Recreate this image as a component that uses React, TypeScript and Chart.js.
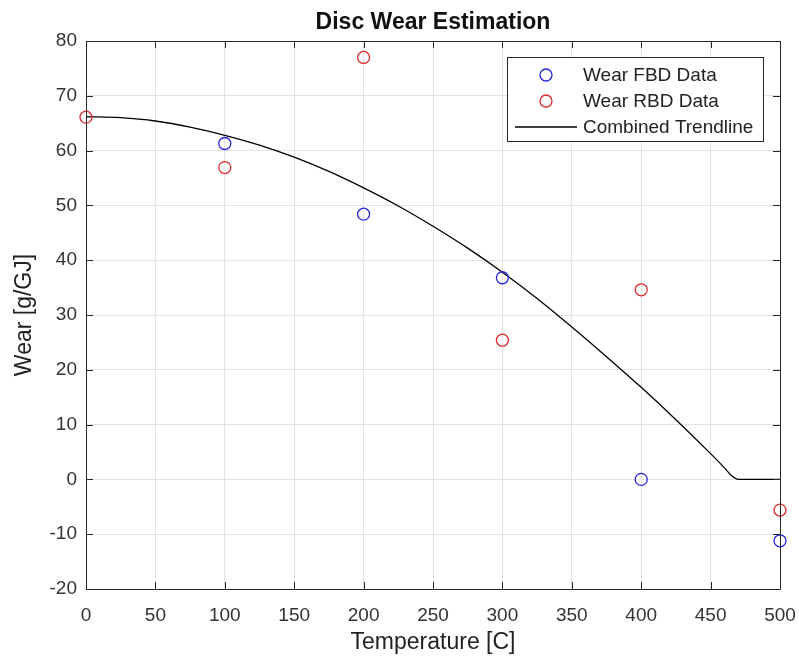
import React, { useEffect, useRef } from "react";
import { Chart, registerables } from "chart.js";

Chart.register(...registerables);

const chartTitle = "Disc Wear Estimation";
const xAxisTitle = "Temperature [C]";
const yAxisTitle = "Wear [g/GJ]";

const fbdTemps = [100, 200, 300, 400, 500];
const fbdWear = [61.3, 48.4, 36.8, 0, -11.2];

const rbdTemps = [0, 100, 200, 300, 400, 500];
const rbdWear = [66.1, 56.9, 77.0, 25.4, 34.6, -5.6];

const trendTemps = [0, 25, 50, 75, 100, 125, 150, 175, 200, 225, 250, 275, 300, 325, 350, 375, 400, 425, 450, 460, 465, 470, 500];
const trendWear = [66.2, 66.0, 65.4, 64.3, 62.8, 61.0, 58.8, 56.2, 53.2, 49.9, 46.2, 42.2, 37.8, 33.0, 27.8, 22.4, 16.8, 10.9, 4.7, 2.1, 0.7, 0, 0];

const legendLabels = ["Wear FBD Data", "Wear RBD Data", "Combined Trendline"];

const BLUE = "#2525dd";
const RED = "#e02a2a";
const AXIS = "#262626";
const FONT = "'Liberation Sans', Arial, Helvetica, sans-serif";

const boxPlugin = {
  id: "matlabBox",
  afterDraw(chart: any) {
    const { ctx, chartArea } = chart;
    const { left, right, top, bottom } = chartArea;
    const xs = chart.scales.x;
    const ys = chart.scales.y;
    ctx.save();
    ctx.strokeStyle = AXIS;
    ctx.lineWidth = 1;
    ctx.beginPath();
    ctx.rect(Math.round(left) + 0.5, Math.round(top) + 0.5, Math.round(right - left), Math.round(bottom - top));
    ctx.stroke();
    const tl = 7;
    ctx.beginPath();
    xs.ticks.forEach((t: any) => {
      const px = Math.round(xs.getPixelForValue(t.value)) + 0.5;
      ctx.moveTo(px, bottom);
      ctx.lineTo(px, bottom - tl);
      ctx.moveTo(px, top);
      ctx.lineTo(px, top + tl);
    });
    ys.ticks.forEach((t: any) => {
      const py = Math.round(ys.getPixelForValue(t.value)) + 0.5;
      ctx.moveTo(left, py);
      ctx.lineTo(left + tl, py);
      ctx.moveTo(right, py);
      ctx.lineTo(right - tl, py);
    });
    ctx.stroke();

    // title
    ctx.fillStyle = "#111";
    ctx.font = `bold 23px ${FONT}`;
    ctx.textAlign = "center";
    ctx.textBaseline = "alphabetic";
    ctx.fillText(chartTitle, (left + right) / 2, 29);

    // legend
    const lx = 507.5, ly = 57.5, lw = 256, lh = 84;
    ctx.fillStyle = "#fff";
    ctx.fillRect(lx, ly, lw, lh);
    ctx.strokeStyle = AXIS;
    ctx.strokeRect(lx, ly, lw, lh);
    const rows = [75, 101, 127];
    ctx.font = `19px ${FONT}`;
    ctx.textAlign = "left";
    ctx.textBaseline = "middle";
    rows.forEach((ry, i) => {
      if (i < 2) {
        ctx.beginPath();
        ctx.strokeStyle = i === 0 ? BLUE : RED;
        ctx.lineWidth = 1.3;
        ctx.arc(546, ry, 6, 0, Math.PI * 2);
        ctx.stroke();
      } else {
        ctx.beginPath();
        ctx.strokeStyle = "#000";
        ctx.lineWidth = 1.3;
        ctx.moveTo(515, ry);
        ctx.lineTo(577, ry);
        ctx.stroke();
      }
      ctx.fillStyle = "#222";
      ctx.fillText(legendLabels[i], 583, ry + 1);
    });
    ctx.restore();
  },
};

export default function App() {
  const ref = useRef<HTMLCanvasElement>(null);
  useEffect(() => {
    if (!ref.current) return;
    const chart = new Chart(ref.current, {
      type: "scatter",
      data: {
        datasets: [
          {
            label: legendLabels[0],
            data: fbdTemps.map((t, i) => ({ x: t, y: fbdWear[i] })),
            borderColor: BLUE,
            backgroundColor: "rgba(0,0,0,0)",
            pointRadius: 6,
            pointBorderWidth: 1.3,
            showLine: false,
            order: 1,
          },
          {
            label: legendLabels[1],
            data: rbdTemps.map((t, i) => ({ x: t, y: rbdWear[i] })),
            borderColor: RED,
            backgroundColor: "rgba(0,0,0,0)",
            pointRadius: 6,
            pointBorderWidth: 1.3,
            showLine: false,
            order: 2,
          },
          {
            label: legendLabels[2],
            data: trendTemps.map((t, i) => ({ x: t, y: trendWear[i] })),
            borderColor: "#000",
            borderWidth: 1.3,
            pointRadius: 0,
            showLine: true,
            cubicInterpolationMode: "monotone",
            order: 3,
          } as any,
        ],
      },
      options: {
        animation: false,
        responsive: false,
        clip: false as any,
        layout: { padding: { left: 0, right: 19, top: 41, bottom: 0 } },
        plugins: {
          legend: { display: false },
          tooltip: { enabled: false },
          title: { display: false },
        },
        scales: {
          x: {
            type: "linear",
            min: 0,
            max: 500,
            ticks: { stepSize: 50, color: "#333", font: { family: FONT, size: 19 }, padding: 15 },
            grid: { color: "#e2e2e2", drawTicks: false },
            border: { display: false },
            title: {
              display: true,
              text: xAxisTitle,
              color: "#222",
              font: { family: FONT, size: 23 },
              padding: { top: 0, bottom: 3 },
            },
            afterFit(scale: any) {
              scale.height = 70;
              scale.paddingRight = 10;
              scale.paddingLeft = 10;
            },
          },
          y: {
            type: "linear",
            min: -20,
            max: 80,
            ticks: { stepSize: 10, color: "#333", font: { family: FONT, size: 19 }, padding: 9 },
            grid: { color: "#e2e2e2", drawTicks: false },
            border: { display: false },
            title: {
              display: true,
              text: yAxisTitle,
              color: "#222",
              font: { family: FONT, size: 23 },
              padding: { top: 11, bottom: 0 },
            },
            afterFit(scale: any) {
              scale.width = 86;
              scale.paddingTop = 10;
              scale.paddingBottom = 10;
            },
          },
        },
      },
      plugins: [boxPlugin],
    });
    return () => chart.destroy();
  }, []);
  return (
    <div style={{ position: "absolute", left: 0, top: 0, width: 799, height: 659, background: "#fff" }}>
      <canvas ref={ref} width={799} height={659} style={{ display: "block" }} />
    </div>
  );
}
